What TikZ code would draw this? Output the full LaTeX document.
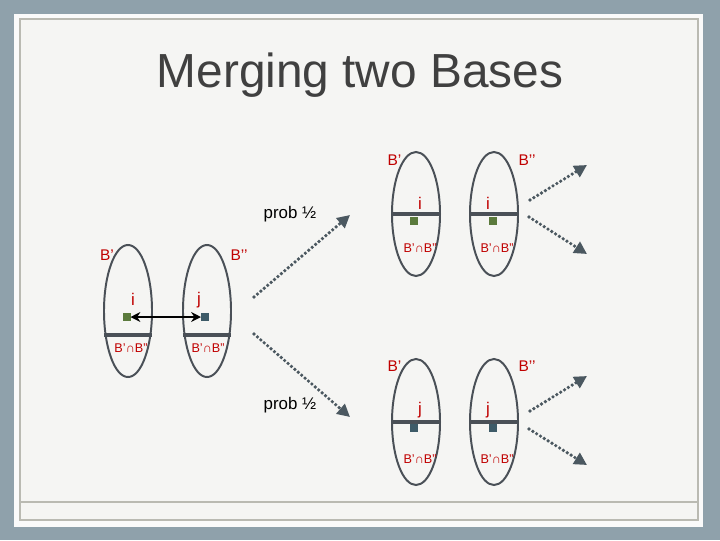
\documentclass[tikz,border=0pt]{standalone}
\usepackage{fontspec}
\setmainfont{Liberation Sans}
\usetikzlibrary{arrows.meta}
\usetikzlibrary{shapes.geometric}

\definecolor{slidebg}{HTML}{8FA1AB}
\definecolor{panel}{HTML}{FAFAFA}
\definecolor{inner}{HTML}{F5F5F3}
\definecolor{rim}{HTML}{BABAB2}
\definecolor{ink}{HTML}{4A5057}
\definecolor{arr}{HTML}{4B5860}
\definecolor{lab}{HTML}{C00000}
\definecolor{sqgreen}{HTML}{5B7A3C}
\definecolor{sqblue}{HTML}{3E5B68}

\begin{document}
\begin{tikzpicture}[x=0.025cm, y=-0.025cm,
  basis/.style={ellipse, draw=ink, line width=1.4pt, minimum width=1.2cm, inner sep=0pt, outer sep=0pt},
  bar/.style={draw=ink, line width=2.2pt},
  lbl/.style={text=lab, font=\fontsize{11}{12}\selectfont, inner sep=0pt},
  elem/.style={text=lab, font=\fontsize{12}{13}\selectfont, inner sep=0pt},
  meet/.style={text=lab, font=\fontsize{9}{10}\selectfont, inner sep=0pt},
  sq/.style={minimum size=0.2cm, inner sep=0pt, outer sep=0pt},
  go/.style={arr, line width=2.6pt, line cap=round, dash pattern=on 0pt off 3.2pt, -{Triangle[length=9pt, width=9pt]}},
  prob/.style={font=\fontsize{12}{13}\selectfont, inner sep=0pt}]

% slide frame
\fill[slidebg] (0,0) rectangle (720,540);
\fill[panel] (14,14) rectangle (703,527);
\draw[rim, fill=inner, line width=1.2pt] (20,19) rectangle (698,520);
\draw[rim, line width=1.2pt] (20,502)--(698,502);

\node[text=black!75, font=\fontsize{34}{40}\selectfont, inner sep=0pt] (title) at (360,75) {Merging two Bases};

% the two bases before merging
\node[basis, minimum height=3.3cm] (L1) at (128,311) {};
\node[basis, minimum height=3.3cm] (L2) at (207,311) {};
\draw[bar] ([yshift=-0.6cm]L1.west)--([yshift=-0.6cm]L1.east);
\draw[bar] ([yshift=-0.6cm]L2.west)--([yshift=-0.6cm]L2.east);
\node[lbl] (lb1) at (107,255) {B’};
\node[lbl] (lb2) at (239,255) {B’’};
\node[elem] (li) at (133,299) {i};
\node[elem] (lj) at (199,300) {j};
\node[sq, fill=sqgreen] (lsi) at (126.5,317) {};
\node[sq, fill=sqblue] (lsj) at (205,317) {};
\draw[black, line width=1.5pt, {Stealth[length=7pt, width=7pt]}-{Stealth[length=7pt, width=7pt]}] (lsi.east)--(lsj.west);
\node[meet] (lm1) at (131,348) {B'∩B''};
\node[meet] (lm2) at (208,348) {B'∩B''};

% the two outcomes
\coordinate (s1) at (254,297);
\coordinate (e1) at (350,215);
\coordinate (s2) at (254,334);
\coordinate (e2) at (350,417);
\draw[go] (s1)--(e1);
\draw[go] (s2)--(e2);
\node[prob] (p1) at (290,214) {prob ½};
\node[prob] (p2) at (290,405) {prob ½};

% outcome: keep i
\node[basis, minimum height=3.1cm] (T1) at (416,214) {};
\node[basis, minimum height=3.1cm] (T2) at (494,214) {};
\draw[bar] (T1.west)--(T1.east);
\draw[bar] (T2.west)--(T2.east);
\node[lbl] (tb1) at (394.5,160) {B’};
\node[lbl] (tb2) at (527,160) {B’’};
\node[elem] (ti1) at (420,203) {i};
\node[elem] (ti2) at (488,203) {i};
\node[sq, fill=sqgreen] (ts1) at (413.5,221) {};
\node[sq, fill=sqgreen] (ts2) at (492.5,221) {};
\node[meet] (tm1) at (420,248) {B'∩B''};
\node[meet] (tm2) at (497,248) {B'∩B''};

% outcome: keep j
\node[basis, minimum height=3.15cm] (U1) at (416,422) {};
\node[basis, minimum height=3.15cm] (U2) at (494,422) {};
\draw[bar] (U1.west)--(U1.east);
\draw[bar] (U2.west)--(U2.east);
\node[lbl] (ub1) at (394.5,366) {B’};
\node[lbl] (ub2) at (527,366) {B’’};
\node[elem] (uj1) at (420,410) {j};
\node[elem] (uj2) at (488,410) {j};
\node[sq, fill=sqblue] (us1) at (414,428) {};
\node[sq, fill=sqblue] (us2) at (492.5,428) {};
\node[meet] (um1) at (420,459) {B'∩B''};
\node[meet] (um2) at (497,459) {B'∩B''};

% further splits
\coordinate (a1) at (530,200);
\coordinate (a2) at (587,165);
\coordinate (a3) at (529,217);
\coordinate (a4) at (587,254);
\coordinate (a5) at (530,411);
\coordinate (a6) at (587,376);
\coordinate (a7) at (529,429);
\coordinate (a8) at (587,465);
\draw[go] (a1)--(a2);
\draw[go] (a3)--(a4);
\draw[go] (a5)--(a6);
\draw[go] (a7)--(a8);
\end{tikzpicture}
\end{document}
